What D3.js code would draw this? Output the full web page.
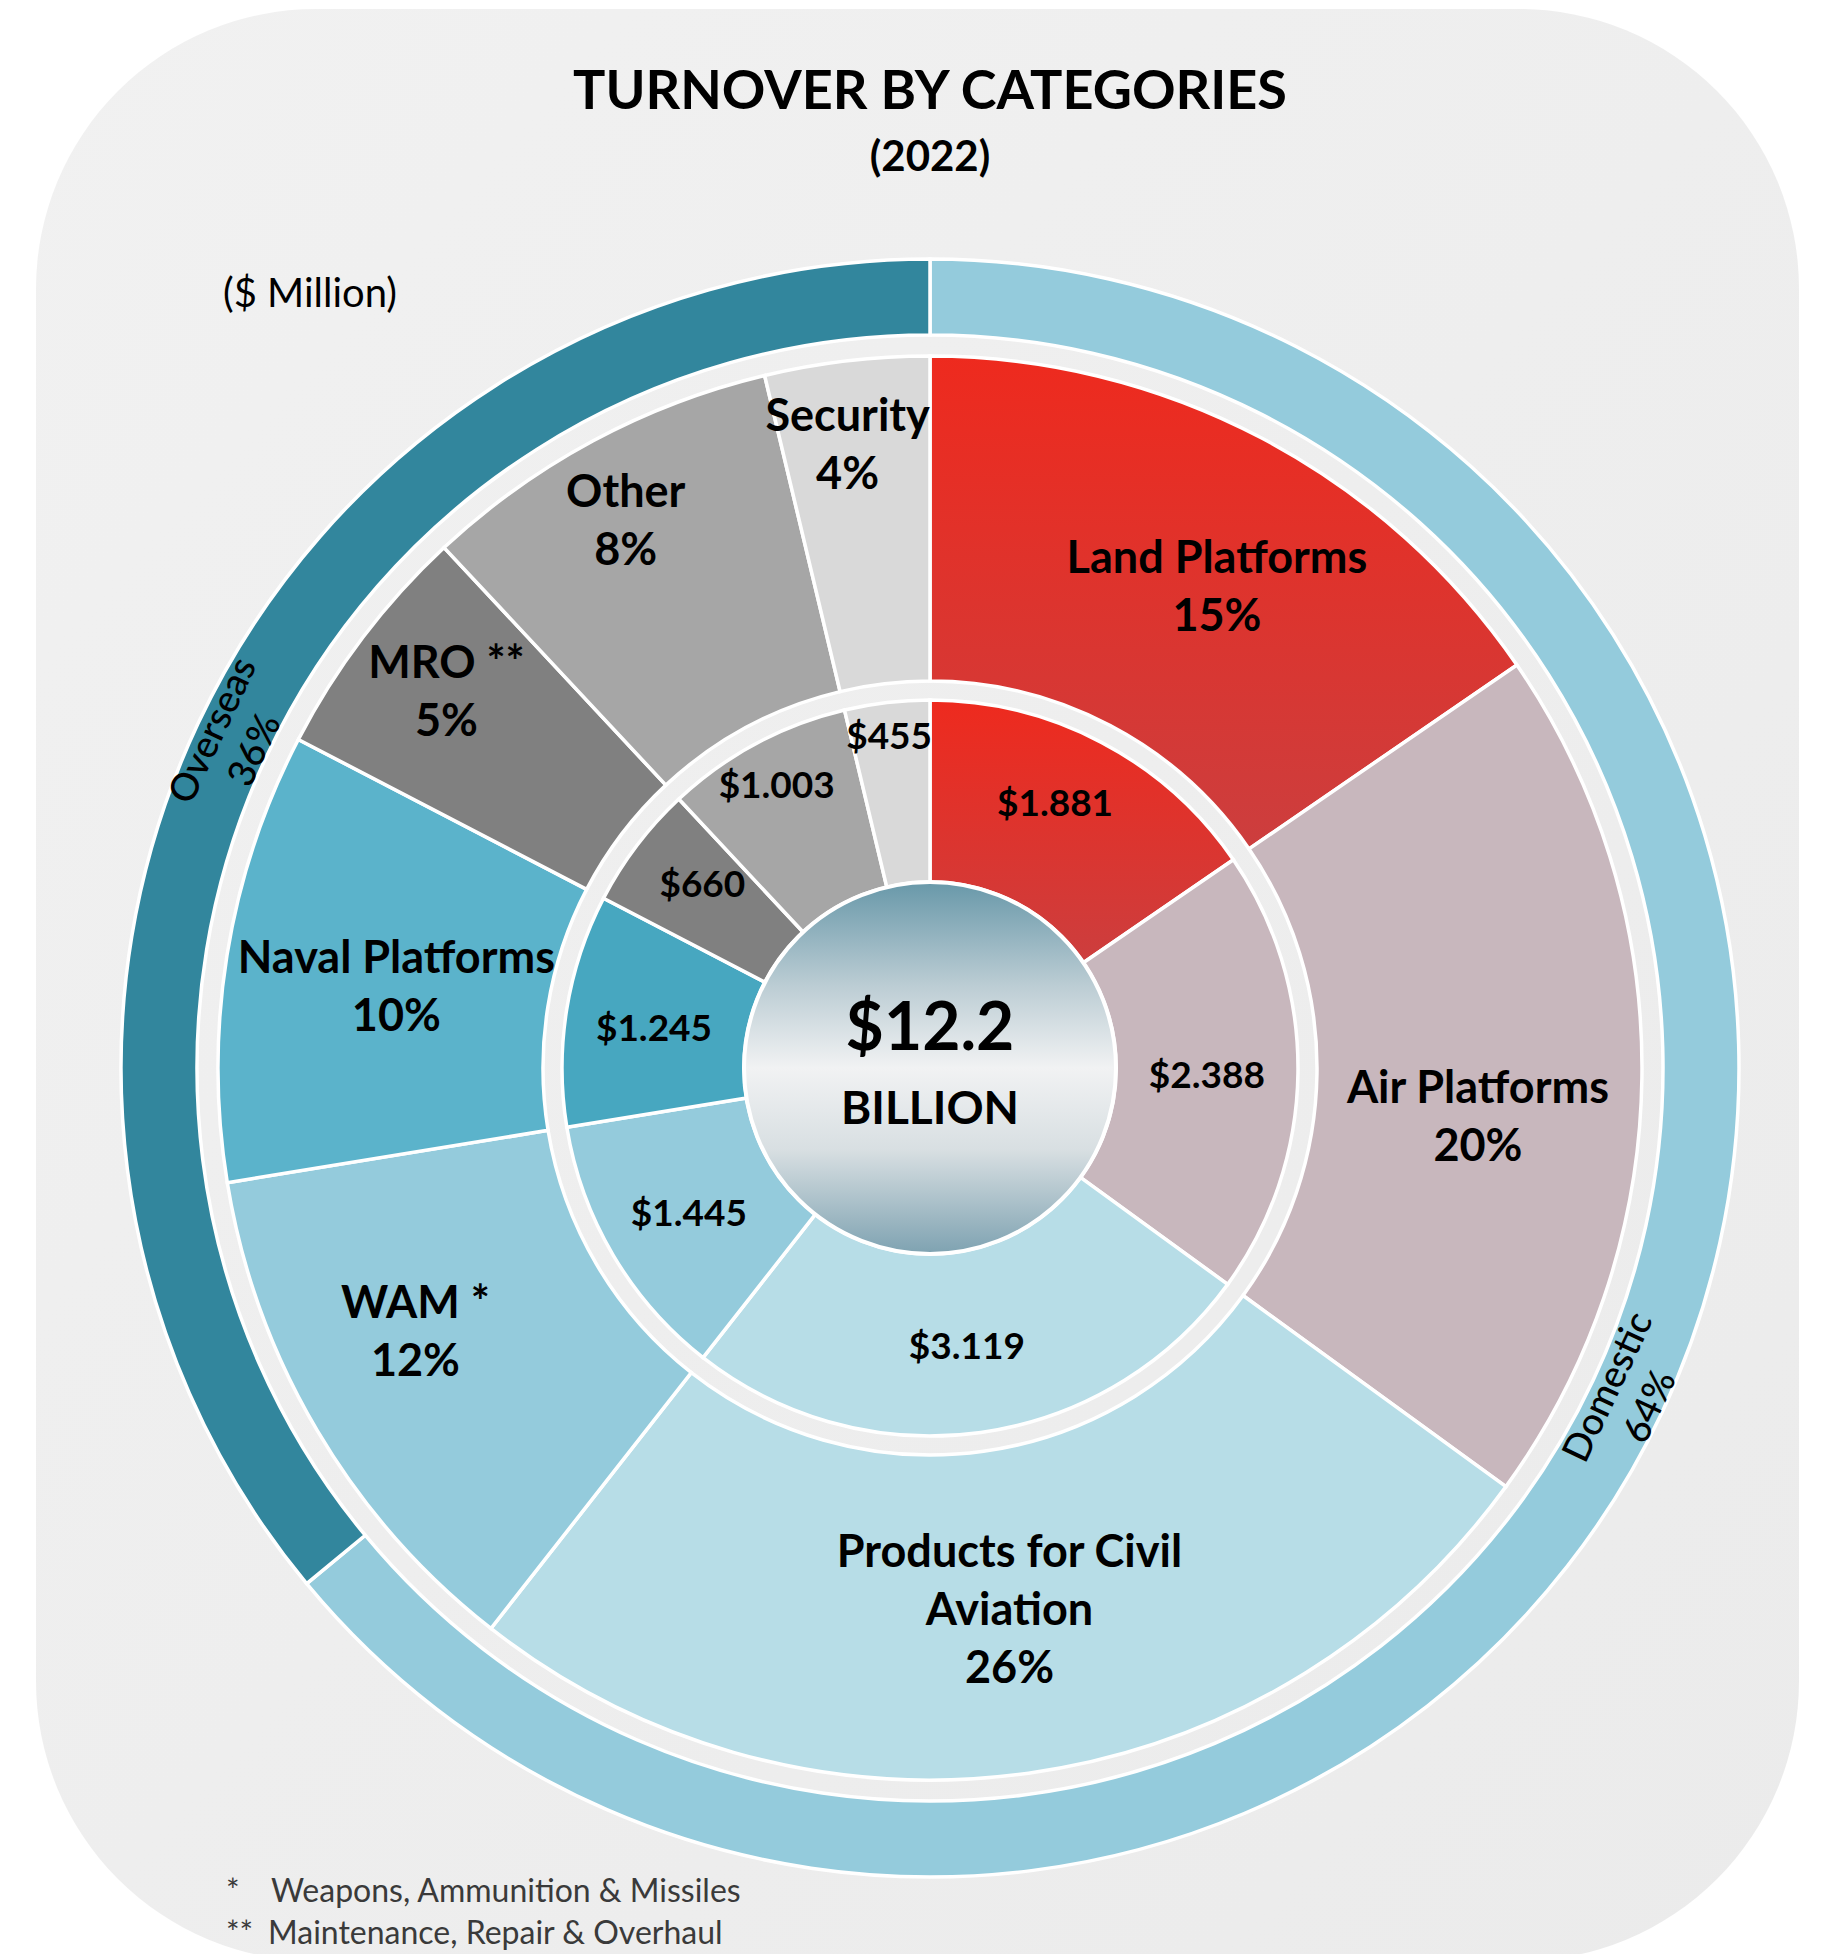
<!DOCTYPE html>
<html>
<head>
<meta charset="utf-8">
<script src="https://cdn.jsdelivr.net/npm/d3@7"></script>
<style>
  body { margin: 0; background: #fff; }
  svg text { font-family: Lato, "Open Sans", sans-serif; }
</style>
</head>
<body>
<div id="chart"></div>
<script>
// turnover by category, $ million, clockwise from 12 o'clock
const categories = ["Land Platforms", "Air Platforms", "Products for Civil Aviation", "WAM *", "Naval Platforms", "MRO **", "Other", "Security"];
const categoryLines = [["Land Platforms"], ["Air Platforms"], ["Products for Civil", "Aviation"], ["WAM *"], ["Naval Platforms"], ["MRO **"], ["Other"], ["Security"]];
const turnover = [1881, 2388, 3119, 1445, 1245, 660, 1003, 455];
const turnoverLabels = ["$1.881", "$2.388", "$3.119", "$1.445", "$1.245", "$660", "$1.003", "$455"];
const shareLabels = ["15%", "20%", "26%", "12%", "10%", "5%", "8%", "4%"];

// domestic / overseas split, %
const markets = ["Domestic", "Overseas"];
const marketShare = [64, 36];

const totalLabel = "$12.2";
const totalUnit = "BILLION";
const footnotes = [["*", "Weapons, Ammunition & Missiles"], ["**", "Maintenance, Repair & Overhaul"]];

// colours
const categoryColors = ["url(#landGrad)", "#c8b7bd", "#b7dde7", "#94cbdc", "#5bb3cb", "#808080", "#a6a6a6", "#d9d9d9"];
const valueColors = ["url(#landGrad)", "#c8b7bd", "#b7dde7", "#94cbdc", "#47a7c0", "#808080", "#a6a6a6", "#d9d9d9"];
const marketColors = ["#94cbdc", "#32869d"];

const width = 1830, height = 1954;
const cx = 930, cy = 1068;

// label tweaks (radius / degrees) so text sits like the original
const catNudge = [{r: 561, da: 3}, {r: 550, da: 4.2}, {r: 547, da: -0.4}, {r: 578, da: 3.5},
                  {r: 540, da: -0.3}, {r: 613, da: 0.7}, {r: 627, da: -0.8}, {r: 630, da: -0.8}];
const valNudge = [{r: 293, da: -2.5}, {r: 277, da: 0.6}, {r: 280, da: 0.4}, {r: 281, da: -0.3},
                  {r: 279, da: -0.7}, {r: 293, da: 1.8}, {r: 322, da: -0.2}, {r: 335, da: -0.3}];

const svg = d3.select("#chart").append("svg")
    .attr("width", width)
    .attr("height", height);

const defs = svg.append("defs");

const cardGrad = defs.append("linearGradient")
    .attr("id", "cardGrad")
    .attr("x1", 0).attr("y1", 0).attr("x2", 1).attr("y2", 1);
cardGrad.append("stop").attr("offset", "0%").attr("stop-color", "#f1f1f1");
cardGrad.append("stop").attr("offset", "100%").attr("stop-color", "#ebebeb");

const landGrad = defs.append("linearGradient")
    .attr("id", "landGrad")
    .attr("x1", 0).attr("y1", 0).attr("x2", 0).attr("y2", 1);
landGrad.append("stop").attr("offset", "0%").attr("stop-color", "#ee2a1e");
landGrad.append("stop").attr("offset", "100%").attr("stop-color", "#cc3e3e");

const hubGrad = defs.append("linearGradient")
    .attr("id", "hubGrad")
    .attr("x1", 0).attr("y1", 0).attr("x2", 0).attr("y2", 1);
[["0%", "#6898a9"], ["28%", "#bccdd4"], ["50%", "#f1f2f3"], ["72%", "#d8dfe2"], ["100%", "#7ea2b1"]]
  .forEach(([o, c]) => hubGrad.append("stop").attr("offset", o).attr("stop-color", c));

// background card
svg.append("rect")
    .attr("x", 36).attr("y", 9)
    .attr("width", 1763).attr("height", 1952)
    .attr("rx", 280).attr("ry", 280)
    .attr("fill", "url(#cardGrad)");

// title
svg.append("text")
    .attr("x", cx).attr("y", 109)
    .attr("text-anchor", "middle")
    .attr("font-size", 54).attr("font-weight", 700)
    .text("TURNOVER BY CATEGORIES");
svg.append("text")
    .attr("x", cx).attr("y", 171)
    .attr("text-anchor", "middle")
    .attr("font-size", 42).attr("font-weight", 700)
    .text("(2022)");
svg.append("text")
    .attr("x", 223).attr("y", 307)
    .attr("font-size", 40)
    .text("($ Million)");

const g = svg.append("g").attr("transform", `translate(${cx},${cy})`);

const pie = d3.pie().sort(null).value(d => d);
const marketArcs = pie(marketShare);
const catArcs = pie(turnover);

const marketArc = d3.arc().innerRadius(733).outerRadius(809);
const catArc = d3.arc().innerRadius(387).outerRadius(712);
const valArc = d3.arc().innerRadius(186).outerRadius(368);

const polar = (a, r) => [r * Math.sin(a), -r * Math.cos(a)];
const rad = d => d * Math.PI / 180;

// outer ring: domestic / overseas
g.append("g").selectAll("path")
  .data(marketArcs)
  .join("path")
    .attr("d", marketArc)
    .attr("fill", (d, i) => marketColors[i])
    .attr("stroke", "#fff")
    .attr("stroke-width", 3.5);

// category ring
g.append("g").selectAll("path")
  .data(catArcs)
  .join("path")
    .attr("d", catArc)
    .attr("fill", (d, i) => categoryColors[i])
    .attr("stroke", "#fff")
    .attr("stroke-width", 3.5);

// value ring
g.append("g").selectAll("path")
  .data(catArcs)
  .join("path")
    .attr("d", valArc)
    .attr("fill", (d, i) => valueColors[i])
    .attr("stroke", "#fff")
    .attr("stroke-width", 3.5);

// hub
g.append("circle")
    .attr("r", 186)
    .attr("fill", "url(#hubGrad)")
    .attr("stroke", "#fff")
    .attr("stroke-width", 4);
g.append("text")
    .attr("y", -18)
    .attr("text-anchor", "middle")
    .attr("font-size", 66).attr("font-weight", 700)
    .text(totalLabel);
g.append("text")
    .attr("y", 56)
    .attr("text-anchor", "middle")
    .attr("font-size", 46).attr("font-weight", 700)
    .text(totalUnit);

// category labels
const catFont = 45, catLine = 58;
catArcs.forEach((d, i) => {
  const mid = (d.startAngle + d.endAngle) / 2 + rad(catNudge[i].da);
  const [x, y] = polar(mid, catNudge[i].r);
  const lines = categoryLines[i].concat(shareLabels[i]);
  const t = g.append("text")
      .attr("text-anchor", "middle")
      .attr("font-size", catFont).attr("font-weight", 700);
  lines.forEach((line, j) => {
    t.append("tspan")
        .attr("x", x)
        .attr("y", y + (j - (lines.length - 1) / 2) * catLine + catFont * 0.36)
        .text(line);
  });
});

// value labels
const valFont = 37;
catArcs.forEach((d, i) => {
  const mid = (d.startAngle + d.endAngle) / 2 + rad(valNudge[i].da);
  const [x, y] = polar(mid, valNudge[i].r);
  g.append("text")
      .attr("x", x).attr("y", y + valFont * 0.36)
      .attr("text-anchor", "middle")
      .attr("font-size", valFont).attr("font-weight", 700)
      .text(turnoverLabels[i]);
});

// market labels, rotated along the ring
const mktFont = 38, mktLine = 46;
marketArcs.forEach((d, i) => {
  const mid = (d.startAngle + d.endAngle) / 2;
  const [x, y] = polar(mid, 771);
  let rot = mid * 180 / Math.PI;
  if (rot > 90 && rot <= 270) rot -= 180;
  if (rot > 270) rot -= 360;
  const lines = [markets[i], marketShare[i] + "%"];
  const t = g.append("text")
      .attr("transform", `translate(${x},${y}) rotate(${rot})`)
      .attr("text-anchor", "middle")
      .attr("font-size", mktFont).attr("font-weight", 500);
  lines.forEach((line, j) => {
    t.append("tspan")
        .attr("x", 0)
        .attr("y", (j - 0.5) * mktLine + mktFont * 0.36)
        .text(line);
  });
});

// footnotes
footnotes.forEach(([mark, text], i) => {
  const y = 1902 + i * 42;
  svg.append("text")
      .attr("x", 226).attr("y", y)
      .attr("font-size", 32).attr("fill", "#3a3a3a")
      .text(mark);
  svg.append("text")
      .attr("x", i === 0 ? 271 : 268).attr("y", y)
      .attr("font-size", 32).attr("fill", "#3a3a3a")
      .text(text);
});
</script>
</body>
</html>
